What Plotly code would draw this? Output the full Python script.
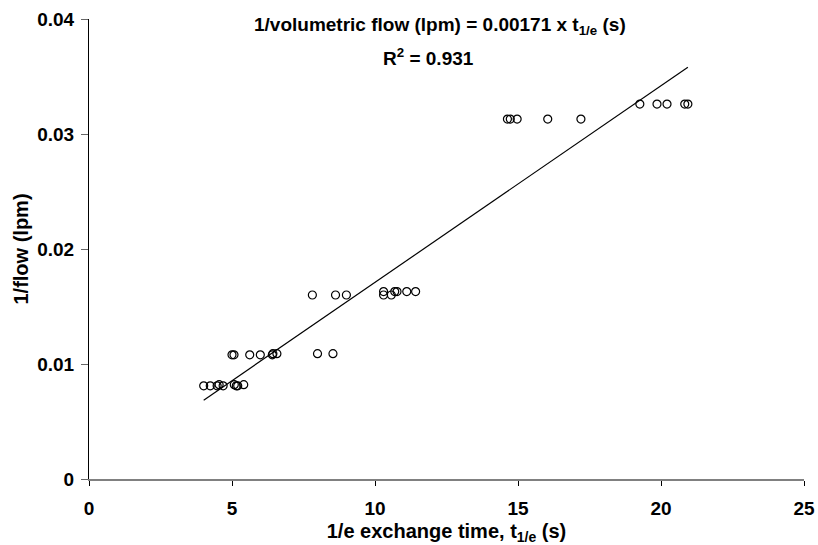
import plotly.graph_objects as go

# Data
exchange_time = [4.01, 4.24, 4.48, 4.55, 4.69, 5.08, 5.15, 5.20, 5.41,
                 5.00, 5.07, 5.62, 5.99, 6.41, 6.43, 6.57,
                 7.99, 8.53,
                 7.81, 8.62, 9.00,
                 10.30, 10.30, 10.57, 10.69, 10.77, 11.11, 11.42,
                 14.63, 14.73, 14.97, 16.04, 17.20,
                 19.26, 19.86, 20.21, 20.83, 20.94]
inv_flow = [0.0081, 0.0081, 0.0081, 0.0082, 0.0081, 0.0082, 0.0081, 0.0081, 0.0082,
            0.0108, 0.0108, 0.0108, 0.0108, 0.0108, 0.0109, 0.0109,
            0.0109, 0.0109,
            0.0160, 0.0160, 0.0160,
            0.0160, 0.0163, 0.0160, 0.0163, 0.0163, 0.0163, 0.0163,
            0.0313, 0.0313, 0.0313, 0.0313, 0.0313,
            0.0326, 0.0326, 0.0326, 0.0326, 0.0326]
slope = 0.00171
x_ticks = [0, 5, 10, 15, 20, 25]
y_ticks = [0, 0.01, 0.02, 0.03, 0.04]
y_tick_labels = ["0", "0.01", "0.02", "0.03", "0.04"]

fit_x = [min(exchange_time), max(exchange_time)]
fit_y = [slope * v for v in fit_x]

FONT = "Liberation Sans"

fig = go.Figure()
fig.add_trace(go.Scatter(x=fit_x, y=fit_y, mode="lines",
                         line=dict(color="black", width=1.2), showlegend=False,
                         hoverinfo="skip"))
fig.add_trace(go.Scatter(x=exchange_time, y=inv_flow, mode="markers",
                         marker=dict(symbol="circle-open", size=8,
                                     color="black", line=dict(width=1.2)),
                         showlegend=False))

fig.update_layout(
    width=818, height=545,
    margin=dict(l=89, r=14, t=19, b=66),
    paper_bgcolor="white", plot_bgcolor="white",
    font=dict(family=FONT, size=19, color="black", weight="bold"),
    xaxis=dict(range=[0, 25], tickvals=x_ticks, showgrid=False, zeroline=False,
               automargin=False,
               showline=True, linecolor="#808080", linewidth=2,
               ticks="outside", ticklen=5, tickcolor="black", tickwidth=1,
               ticklabelstandoff=6,
               tickfont=dict(size=19, weight="bold"),
               title=dict(text="1/e exchange time, t<sub>1/e</sub> (s)",
                          font=dict(size=20, weight="bold"), standoff=8)),
    yaxis=dict(range=[0, 0.04], tickvals=y_ticks, ticktext=y_tick_labels,
               showgrid=False, zeroline=False, automargin=False,
               showline=True, linecolor="black", linewidth=1,
               ticks="outside", ticklen=7, tickcolor="#666666", tickwidth=1,
               ticklabelstandoff=3,
               tickfont=dict(size=19, weight="bold"),
               title=dict(text="1/flow (lpm)", font=dict(size=20, weight="bold"),
                          standoff=3)),
    annotations=[
        dict(text="1/volumetric flow (lpm) = 0.00171 x t<sub>1/e</sub> (s)",
             xref="paper", yref="paper", x=(440 - 89) / 715, y=(479 - 26) / 460,
             xanchor="center", yanchor="middle", showarrow=False,
             font=dict(size=19, weight="bold")),
        dict(text="R<sup>2</sup> = 0.931",
             xref="paper", yref="paper", x=(428 - 89) / 715, y=(479 - 57) / 460,
             xanchor="center", yanchor="middle", showarrow=False,
             font=dict(size=19, weight="bold")),
    ],
)

fig.write_html("out.html")
